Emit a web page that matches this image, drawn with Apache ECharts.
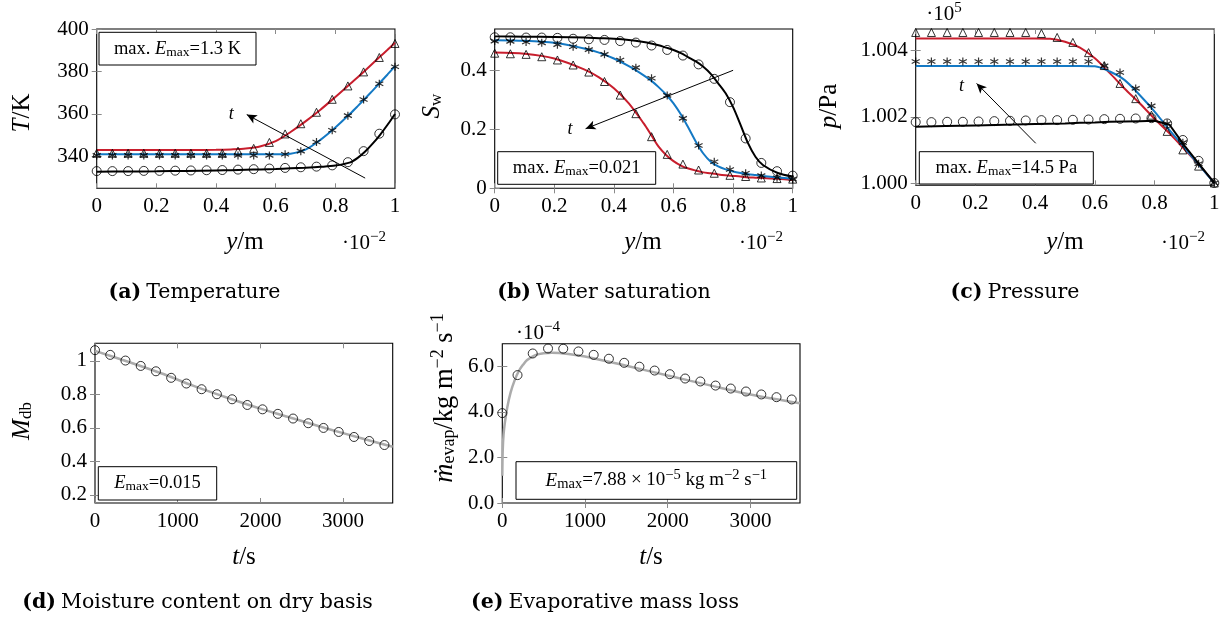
<!DOCTYPE html>
<html><head><meta charset="utf-8">
<script src="https://cdn.jsdelivr.net/npm/echarts@6/dist/echarts.min.js"></script>
<style>html,body{margin:0;padding:0;background:#fff;}#c{width:1229px;height:628px;}</style>
</head><body><div id="c"></div>
<script>
// ---------- data ----------
const posGrid = [0, 0.0526, 0.1053, 0.1579, 0.2105, 0.2632, 0.3158, 0.3684, 0.4211, 0.4737, 0.5263, 0.5789, 0.6316, 0.6842, 0.7368, 0.7895, 0.8421, 0.8947, 0.9474, 1];
const timeGrid = [0, 184, 368, 553, 737, 921, 1105, 1289, 1474, 1658, 1842, 2026, 2211, 2395, 2579, 2763, 2947, 3132, 3316, 3500];

// (a) temperature [K]
const tempTri  = [341.5, 341.5, 341.5, 341.5, 341.5, 341.5, 341.5, 341.5, 341.5, 342.5, 343.8, 346.6, 350.6, 355.4, 360.8, 366.9, 373.2, 379.8, 386.6, 393.2];
const tempStar = [340.5, 340.5, 340.5, 340.5, 340.5, 340.5, 340.5, 340.5, 340.5, 340.5, 340.5, 340.5, 341.0, 342.5, 346.8, 352.3, 359.2, 366.8, 374.2, 382.2];
const tempCirc = [333.1, 333.1, 333.1, 333.2, 333.2, 333.3, 333.4, 333.5, 333.6, 333.8, 334.0, 334.3, 334.6, 334.9, 335.2, 335.8, 337.3, 342.5, 350.7, 359.8];
const tempLineX = [0, 0.1, 0.2, 0.3, 0.4, 0.45, 0.5, 0.55, 0.6, 0.65, 0.7, 0.75, 0.8, 0.85, 0.875, 0.9, 0.925, 0.95, 0.975, 1];
const tempLineRed   = [343.0, 343.0, 343.0, 343.0, 343.1, 343.3, 343.7, 344.8, 347.2, 351.5, 356.5, 362.0, 368.0, 374.2, 377.3, 380.5, 383.8, 387.0, 390.2, 393.5];
const tempLineBlue  = [341.0, 341.0, 341.0, 341.0, 341.0, 341.0, 341.0, 341.0, 341.0, 341.3, 343.2, 347.8, 353.6, 360.2, 363.7, 367.3, 371.0, 374.8, 378.6, 382.5];
const tempLineBlack = [332.8, 332.9, 333.0, 333.2, 333.4, 333.5, 333.7, 333.9, 334.1, 334.4, 334.7, 335.1, 335.7, 337.2, 339.3, 342.3, 346.0, 350.2, 354.9, 360.0];

// (b) water saturation
const satTri  = [0.458, 0.456, 0.454, 0.446, 0.435, 0.418, 0.394, 0.362, 0.316, 0.253, 0.175, 0.115, 0.082, 0.062, 0.051, 0.044, 0.040, 0.035, 0.033, 0.031];
const satStar = [0.499, 0.498, 0.496, 0.493, 0.487, 0.480, 0.470, 0.454, 0.435, 0.409, 0.373, 0.315, 0.237, 0.145, 0.090, 0.064, 0.051, 0.043, 0.036, 0.031];
const satCirc = [0.512, 0.512, 0.511, 0.511, 0.510, 0.507, 0.505, 0.503, 0.499, 0.494, 0.484, 0.469, 0.450, 0.420, 0.371, 0.292, 0.169, 0.086, 0.058, 0.043];
const satLineX = [0, 0.1, 0.2, 0.3, 0.35, 0.4, 0.45, 0.5, 0.525, 0.55, 0.575, 0.6, 0.625, 0.65, 0.675, 0.7, 0.725, 0.75, 0.775, 0.8, 0.825, 0.85, 0.875, 0.9, 0.95, 1];
const satLineRed   = [0.460, 0.456, 0.440, 0.403, 0.376, 0.339, 0.288, 0.220, 0.181, 0.141, 0.113, 0.092, 0.077, 0.067, 0.060, 0.054, 0.051, 0.047, 0.044, 0.042, 0.040, 0.037, 0.036, 0.035, 0.032, 0.028];
const satLineBlue  = [0.502, 0.500, 0.493, 0.474, 0.460, 0.440, 0.414, 0.383, 0.365, 0.343, 0.318, 0.288, 0.250, 0.205, 0.158, 0.118, 0.090, 0.074, 0.064, 0.057, 0.052, 0.048, 0.045, 0.042, 0.037, 0.032];
const satLineBlack = [0.515, 0.514, 0.513, 0.511, 0.509, 0.507, 0.503, 0.496, 0.491, 0.485, 0.477, 0.469, 0.458, 0.444, 0.430, 0.412, 0.388, 0.356, 0.322, 0.275, 0.215, 0.153, 0.107, 0.079, 0.052, 0.040];

// (c) pressure [x 1e5 Pa]
const presTri  = [1.00455, 1.00455, 1.00455, 1.00455, 1.00455, 1.00455, 1.00455, 1.00455, 1.00452, 1.00440, 1.00425, 1.00394, 1.00355, 1.00301, 1.00255, 1.00205, 1.00156, 1.00100, 1.00051, 1.00000];
const presStar = [1.00367, 1.00367, 1.00367, 1.00367, 1.00367, 1.00367, 1.00367, 1.00367, 1.00367, 1.00367, 1.00367, 1.00367, 1.00354, 1.00334, 1.00286, 1.00233, 1.00180, 1.00122, 1.00058, 1.00000];
const presCirc = [1.00184, 1.00184, 1.00185, 1.00185, 1.00186, 1.00187, 1.00188, 1.00189, 1.00190, 1.00190, 1.00191, 1.00192, 1.00193, 1.00194, 1.00195, 1.00196, 1.00180, 1.00130, 1.00067, 1.00000];
const presLineX = [0, 0.1, 0.2, 0.3, 0.4, 0.45, 0.5, 0.55, 0.6, 0.65, 0.7, 0.75, 0.8, 0.85, 0.9, 0.95, 1];
const presLineRed   = [1.00437, 1.00437, 1.00437, 1.00437, 1.00437, 1.00436, 1.00427, 1.00409, 1.00377, 1.00332, 1.00285, 1.00241, 1.00194, 1.00150, 1.00102, 1.00053, 1.00000];
const presLineBlue  = [1.00354, 1.00354, 1.00354, 1.00354, 1.00354, 1.00354, 1.00354, 1.00354, 1.00353, 1.00337, 1.00311, 1.00266, 1.00216, 1.00160, 1.00107, 1.00053, 1.00000];
const presLineBlack = [1.00170, 1.00172, 1.00174, 1.00176, 1.00178, 1.00179, 1.00180, 1.00182, 1.00183, 1.00185, 1.00186, 1.00187, 1.00188, 1.00176, 1.00113, 1.00056, 1.00000];

// (d) moisture content
const moistCirc = [1.064, 1.036, 1.002, 0.970, 0.938, 0.899, 0.865, 0.831, 0.801, 0.771, 0.737, 0.711, 0.684, 0.656, 0.628, 0.600, 0.576, 0.546, 0.522, 0.498];
const moistLineT = [0, 400, 800, 1200, 1600, 2000, 2400, 2800, 3200, 3600];
const moistLine  = [1.060, 0.995, 0.926, 0.849, 0.780, 0.715, 0.656, 0.597, 0.541, 0.488];

// (e) evaporative mass loss [x 1e-4]
const evapCirc = [3.95, 5.62, 6.57, 6.79, 6.78, 6.66, 6.51, 6.34, 6.16, 5.99, 5.82, 5.66, 5.47, 5.34, 5.16, 5.03, 4.90, 4.77, 4.65, 4.55];
const evapLineT = [0, 5, 15, 30, 60, 100, 150, 200, 250, 300, 400, 500, 600, 800, 1000, 1500, 2000, 2500, 3000, 3600];
const evapLine  = [1.2, 2.3, 3.0, 3.5, 4.2, 4.85, 5.4, 5.8, 6.07, 6.28, 6.5, 6.58, 6.6, 6.55, 6.44, 6.03, 5.6, 5.18, 4.77, 4.38];

// ticks
const posTicks = [0, 0.2, 0.4, 0.6, 0.8, 1];
const posTickLabels = ['0', '0.2', '0.4', '0.6', '0.8', '1'];
const tempTicks = [340, 360, 380, 400];
const tempTickLabels = ['340', '360', '380', '400'];
const satTicks = [0, 0.2, 0.4];
const satTickLabels = ['0', '0.2', '0.4'];
const presTicks = [1.000, 1.002, 1.004];
const presTickLabels = ['1.000', '1.002', '1.004'];
const timeTicks = [0, 1000, 2000, 3000];
const timeTickLabels = ['0', '1000', '2000', '3000'];
const moistTicks = [0.2, 0.4, 0.6, 0.8, 1];
const moistTickLabels = ['0.2', '0.4', '0.6', '0.8', '1'];
const evapTicks = [0, 2, 4, 6];
const evapTickLabels = ['0.0', '2.0', '4.0', '6.0'];

// annotation arrows (data coordinates)
const arrowA = [[0.9, 329.8], [0.503, 359.7]]; const tA = [0.451, 359.7];
const arrowB = [[0.8, 0.4], [0.305, 0.202]];   const tB = [0.253, 0.2];
const arrowC = [[0.402, 1.0012], [0.204, 1.00301]]; const tC = [0.153, 1.00293];

// ---------- style ----------
const SERIF = "'Liberation Serif','Times New Roman',serif";
const CAPF = "'DejaVu Serif',serif";
const RED = '#c81e2d', BLUE = '#1479c4', GRAY = '#ababab', TICK = '#8a8a8a';
const STAR = 'path://M5,0L5,10M0.67,2.5L9.33,7.5M0.67,7.5L9.33,2.5';

const grids = [], xAxes = [], yAxes = [], series = [];
const zip = (xs, ys) => xs.map((x, i) => [x, ys[i]]);
const lab = (ticks, labels) => ({show: true, customValues: ticks,
  formatter: v => { const i = ticks.findIndex(t => Math.abs(t - v) < 1e-7); return i < 0 ? '' : labels[i]; },
  fontFamily: SERIF, fontSize: 21, color: '#000', margin: 8});
const tck = ticks => ({show: true, inside: true, length: 5, customValues: ticks, lineStyle: {color: TICK, width: 1}});

function addPanel(k, g, xa, ya) {
  grids.push(Object.assign({show: true, borderColor: '#000', borderWidth: 1.1, backgroundColor: 'rgba(0,0,0,0)'}, g));
  const base = {type: 'value', gridIndex: k, axisLine: {show: false}, splitLine: {show: false}};
  xAxes.push(Object.assign({}, base, {position: 'bottom', min: xa.min, max: xa.max, axisTick: tck(xa.ticks), axisLabel: lab(xa.ticks, xa.labels)}));
  xAxes.push(Object.assign({}, base, {position: 'top', min: xa.min, max: xa.max, axisTick: tck(xa.ticks), axisLabel: {show: false}}));
  yAxes.push(Object.assign({}, base, {position: 'left', min: ya.min, max: ya.max, axisTick: tck(ya.ticks), axisLabel: lab(ya.ticks, ya.labels)}));
  yAxes.push(Object.assign({}, base, {position: 'right', min: ya.min, max: ya.max, axisTick: tck(ya.ticks), axisLabel: {show: false}}));
}
function lineS(k, xs, ys, color, width, smooth, extra) {
  series.push(Object.assign({type: 'line', xAxisIndex: 2 * k, yAxisIndex: 2 * k, data: zip(xs, ys), showSymbol: false, symbol: 'none',
    smooth: smooth, lineStyle: {color: color, width: width}, z: 2, silent: true}, extra || {}));
}
function markS(k, xs, ys, sym, size, bw) {
  series.push({type: 'scatter', xAxisIndex: 2 * k, yAxisIndex: 2 * k, data: zip(xs, ys), symbol: sym, symbolSize: size,
    itemStyle: {color: 'rgba(0,0,0,0)', borderColor: '#000', borderWidth: bw || 1}, z: 3, silent: true});
}
function arrowExtra(arr, tp) {
  return {
    markLine: {silent: true, animation: false, symbol: ['none', 'arrow'], symbolSize: [7, 10],
      lineStyle: {color: '#000', width: 1, type: 'solid'}, label: {show: false},
      data: [[{coord: arr[0]}, {coord: arr[1]}]]},
    markPoint: {silent: true, animation: false,
      data: [{coord: tp, symbol: 'circle', symbolSize: 1, itemStyle: {color: 'rgba(0,0,0,0)'},
        label: {show: true, position: 'inside', formatter: 't', fontFamily: SERIF, fontStyle: 'italic', fontSize: 18, color: '#000'}}]}
  };
}

// (a)
addPanel(0, {left: 96.7, top: 29, width: 298.3, height: 159.3},
  {min: 0, max: 1, ticks: posTicks, labels: posTickLabels}, {min: 325, max: 400, ticks: tempTicks, labels: tempTickLabels});
lineS(0, tempLineX, tempLineRed, RED, 2, 0.3);
lineS(0, tempLineX, tempLineBlue, BLUE, 2, 0.3);
lineS(0, tempLineX, tempLineBlack, '#000', 2, 0.3, arrowExtra(arrowA, tA));
markS(0, posGrid, tempTri, 'triangle', 8);
markS(0, posGrid, tempStar, STAR, 8, 1.2);
markS(0, posGrid, tempCirc, 'circle', 9);
// (b)
addPanel(1, {left: 494.7, top: 29, width: 298, height: 159.3},
  {min: 0, max: 1, ticks: posTicks, labels: posTickLabels}, {min: 0, max: 0.54, ticks: satTicks, labels: satTickLabels});
lineS(1, satLineX, satLineRed, RED, 2, 0.3);
lineS(1, satLineX, satLineBlue, BLUE, 2, 0.3);
lineS(1, satLineX, satLineBlack, '#000', 2, 0.3, arrowExtra(arrowB, tB));
markS(1, posGrid, satTri, 'triangle', 8);
markS(1, posGrid, satStar, STAR, 8, 1.2);
markS(1, posGrid, satCirc, 'circle', 9);
// (c)
addPanel(2, {left: 915.7, top: 29, width: 298.6, height: 156.3},
  {min: 0, max: 1, ticks: posTicks, labels: posTickLabels}, {min: 0.99993, max: 1.004655, ticks: presTicks, labels: presTickLabels});
lineS(2, presLineX, presLineRed, RED, 2, 0.3);
lineS(2, presLineX, presLineBlue, BLUE, 2, 0.3);
lineS(2, presLineX, presLineBlack, '#000', 2, false, arrowExtra(arrowC, tC));
markS(2, posGrid, presTri, 'triangle', 8);
markS(2, posGrid, presStar, STAR, 8, 1.2);
markS(2, posGrid, presCirc, 'circle', 9);
// (d)
addPanel(3, {left: 95, top: 343.3, width: 297.7, height: 159.7},
  {min: 0, max: 3600, ticks: timeTicks, labels: timeTickLabels}, {min: 0.152, max: 1.105, ticks: moistTicks, labels: moistTickLabels});
lineS(3, moistLineT, moistLine, GRAY, 2.5, 0.3);
markS(3, timeGrid, moistCirc, 'circle', 9);
// (e)
addPanel(4, {left: 502.3, top: 343.7, width: 297.7, height: 159.3},
  {min: 0, max: 3600, ticks: timeTicks, labels: timeTickLabels}, {min: 0, max: 7.0, ticks: evapTicks, labels: evapTickLabels});
lineS(4, evapLineT, evapLine, GRAY, 2.5, 0.3);
markS(4, timeGrid, evapCirc, 'circle', 9);

// ---------- text / layout elements ----------
const mkRich = (f, sf, dn, up) => ({i: {fontFamily: SERIF, fontSize: f, fontStyle: 'italic'}, r: {fontFamily: SERIF, fontSize: f},
  s: {fontFamily: SERIF, fontSize: sf, padding: [dn, 0, 0, 0]}, p: {fontFamily: SERIF, fontSize: sf, padding: [0, 0, up, 0]}});
const rAx = mkRich(25, 17, 9, 12);
const rAxE = mkRich(26.5, 18, 9, 13);
const rBox = mkRich(18.5, 13.5, 7, 10);
const rBoxE = mkRich(19, 14.5, 7, 11);
const rMul = {r: {fontFamily: SERIF, fontSize: 21}, p: {fontFamily: SERIF, fontSize: 15, padding: [0, 0, 11, 0]}};
const rCap = {b: {fontFamily: CAPF, fontSize: 20.5, fontWeight: 'bold'}, r: {fontFamily: CAPF, fontSize: 20.5}};

const graphic = [];
function txt(x, y, text, rich, align, rot) {
  graphic.push({type: 'text', x: x, y: y, rotation: rot || 0, silent: true, z: 100,
    style: {text: text, rich: rich, align: align || 'center', verticalAlign: 'middle', fill: '#000', fontFamily: SERIF, fontSize: 20}});
}
function box(x0, y0, x1, y1, text, rich) {
  graphic.push({type: 'rect', silent: true, z: 99, shape: {x: x0, y: y0, width: x1 - x0, height: y1 - y0},
    style: {fill: '#fff', stroke: '#000', lineWidth: 1}});
  txt((x0 + x1) / 2, (y0 + y1) / 2, text, rich || rBox);
}
const R90 = Math.PI / 2;
// axis titles
txt(22, 113, '{i|T}{r|/K}', rAx, 'center', R90);
txt(432, 106, '{i|S}{s|w}', rAx, 'center', R90);
txt(829, 106, '{i|p}{r|/Pa}', rAx, 'center', R90);
txt(22, 421, '{i|M}{s|db}', rAx, 'center', R90);
txt(445, 398, '{i|ṁ}{s|evap}{r|/kg m}{p|−2}{r| s}{p|−1}', rAxE, 'center', R90);
txt(245, 242, '{i|y}{r|/m}', rAx);
txt(643, 242, '{i|y}{r|/m}', rAx);
txt(1065, 242, '{i|y}{r|/m}', rAx);
txt(244, 557, '{i|t}{r|/s}', rAx);
txt(651, 557, '{i|t}{r|/s}', rAx);
// multipliers
txt(364, 243, '{r|·10}{p|−2}', rMul);
txt(761, 243, '{r|·10}{p|−2}', rMul);
txt(1183, 243, '{r|·10}{p|−2}', rMul);
txt(944, 14, '{r|·10}{p|5}', rMul);
txt(538, 333, '{r|·10}{p|−4}', rMul);
// boxes
box(99, 32.3, 256, 65, '{r|max. }{i|E}{s|max}{r|=1.3 K}');
box(497.7, 151.7, 655.7, 184.3, '{r|max. }{i|E}{s|max}{r|=0.021}');
box(919.3, 151.7, 1093.3, 184, '{r|max. }{i|E}{s|max}{r|=14.5 Pa}');
box(98.3, 466.7, 216.7, 500, '{i|E}{s|max}{r|=0.015}');
box(516, 461.7, 796.7, 499.3, '{i|E}{s|max}{r|=7.88 × 10}{p|−5}{r| kg m}{p|−2}{r| s}{p|−1}', rBoxE);
// captions (centred under each sub-figure)
txt(194.5, 293, '{b|(a)} {r|Temperature}', rCap);
txt(604, 293, '{b|(b)} {r|Water saturation}', rCap);
txt(1015, 293, '{b|(c)} {r|Pressure}', rCap);
txt(197.5, 603, '{b|(d)} {r|Moisture content on dry basis}', rCap);
txt(605, 603, '{b|(e)} {r|Evaporative mass loss}', rCap);

const chart = echarts.init(document.getElementById('c'), null, {renderer: 'canvas'});
chart.setOption({
  animation: false, backgroundColor: '#fff',
  grid: grids, xAxis: xAxes, yAxis: yAxes, series: series, graphic: graphic
});
</script></body></html>
